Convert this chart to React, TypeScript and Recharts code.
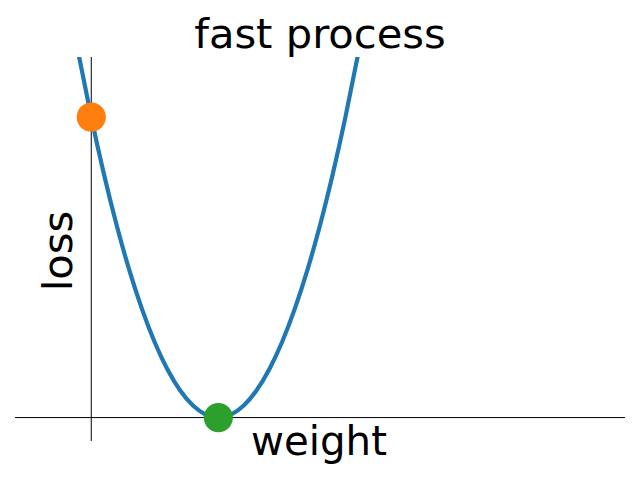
import * as React from "react";
import {
  ComposedChart,
  Line,
  Scatter,
  XAxis,
  YAxis,
  ReferenceLine,
} from "recharts";

// curve: loss against weight
const weights = [
  -0.1, 0, 0.1, 0.2, 0.3, 0.4, 0.5, 0.6, 0.7, 0.8, 0.9, 1.0, 1.1, 1.2, 1.3,
  1.4, 1.5, 1.6, 1.7, 1.8, 1.9, 2.0, 2.1,
];
const losses = [
  1.21, 1.0, 0.81, 0.64, 0.49, 0.36, 0.25, 0.16, 0.09, 0.04, 0.01, 0, 0.01,
  0.04, 0.09, 0.16, 0.25, 0.36, 0.49, 0.64, 0.81, 1.0, 1.21,
];

const startPoint = [{ w: 0, loss: 1.0 }];
const endPoint = [{ w: 1, loss: 0 }];

const xDomain = [-0.6, 4.2];
const yDomain = [-0.078, 1.2];

const curve = weights.map((w, i) => ({ w, loss: losses[i] }));

const FONT = "'DejaVu Sans', sans-serif";
const FS = 41.67;

function dot(color: string) {
  return (props: any) => (
    <circle cx={props.cx} cy={props.cy} r={14.6} fill={color} />
  );
}

export default function App() {
  return (
    <div style={{ position: "absolute", left: 0, top: 0, background: "#fff" }}>
      <ComposedChart
        width={640}
        height={480}
        data={curve}
        margin={{ top: 57, right: 15, bottom: 39, left: 15 }}
      >
        <XAxis
          dataKey="w"
          type="number"
          domain={xDomain}
          allowDataOverflow
          hide
        />
        <YAxis type="number" domain={yDomain} allowDataOverflow hide />
        <Line
          type="natural"
          dataKey="loss"
          stroke="#1f77b4"
          strokeWidth={4.2}
          dot={false}
          isAnimationActive={false}
        />
        <Scatter
          data={startPoint}
          dataKey="loss"
          shape={dot("#ff7f0e")}
          isAnimationActive={false}
        />
        <Scatter
          data={endPoint}
          dataKey="loss"
          shape={dot("#2ca02c")}
          isAnimationActive={false}
        />
        <ReferenceLine x={0} stroke="#000" strokeWidth={1} />
        <ReferenceLine y={0} stroke="#000" strokeWidth={1} />
        <text
          x={320}
          y={48}
          textAnchor="middle"
          fontFamily={FONT}
          fontSize={FS}
          fill="#000"
        >
          fast process
        </text>
        <text
          x={319}
          y={455}
          textAnchor="middle"
          fontFamily={FONT}
          fontSize={40.3}
          fill="#000"
        >
          weight
        </text>
        <text
          x={72}
          y={251}
          transform="rotate(-90 72 251)"
          textAnchor="middle"
          fontFamily={FONT}
          fontSize={FS}
          fill="#000"
        >
          loss
        </text>
      </ComposedChart>
    </div>
  );
}
